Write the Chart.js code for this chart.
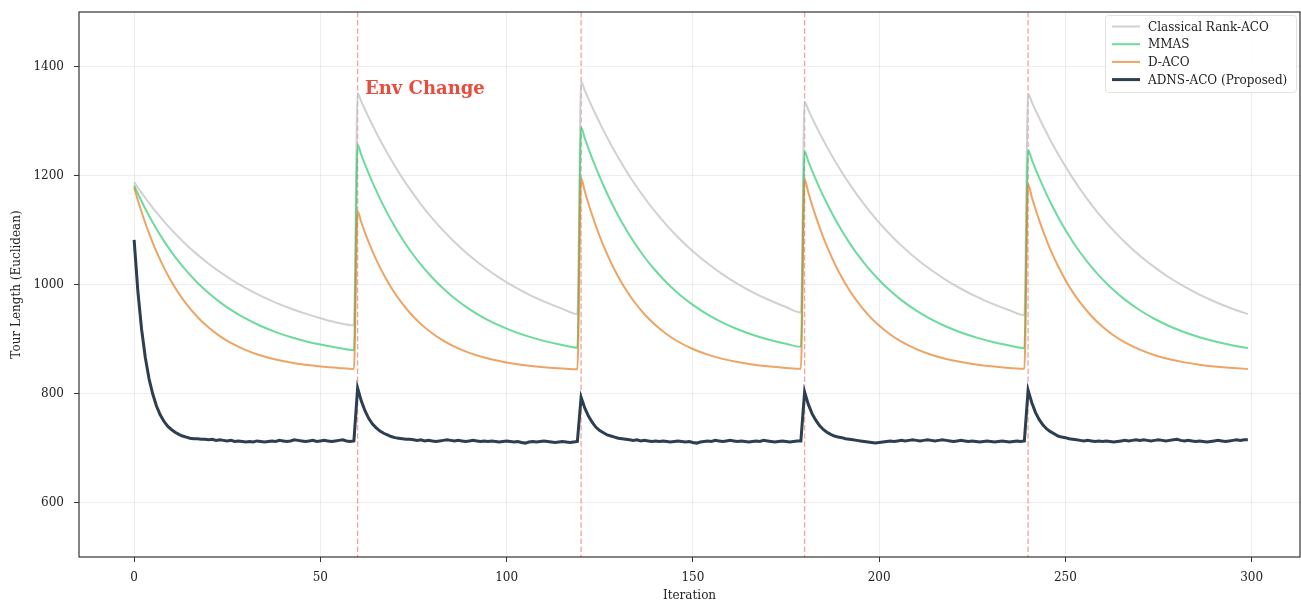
<!DOCTYPE html>
<html><head><meta charset="utf-8">
<script src="https://cdn.jsdelivr.net/npm/chart.js@4.4.0/dist/chart.umd.min.js"></script>
<style>html,body{margin:0;padding:0;background:#fff;}#wrap{width:1301px;height:603px;}</style>
</head><body><div id="wrap"><canvas id="c" width="1301" height="603"></canvas></div>
<script>
// ---- data ----
const seriesLabels = ['Classical Rank-ACO', 'MMAS', 'D-ACO', 'ADNS-ACO (Proposed)'];
const segmentStarts = [0, 60, 120, 180, 240];
const sampleOffsets = [0,1,2,3,4,5,6,8,10,12,14,17,20,23,26,30,34,38,42,46,50,55,59];
const envChanges = [60, 120, 180, 240];
const envLabel = 'Env Change';
const xTicks = [0, 50, 100, 150, 200, 250, 300];
const yTicks = [600, 800, 1000, 1200, 1400];

const rankValues = [
 1188,1177.9,1168.1,1158.7,1149.6,1140.7,1132.2,1115.9,1100.7,1086.5,1073.1,1054.8,1038.1,1023.1,1009.5,993.3,979.2,966.8,956.0,946.5,938.2,929.2,925.1,
 1351,1335.6,1320.6,1306.2,1292.2,1278.7,1265.6,1240.7,1217.5,1195.7,1175.4,1147.2,1121.8,1098.8,1078.0,1053.3,1031.7,1012.7,996.1,981.6,969.0,955.3,945.9,
 1372,1355.9,1340.3,1325.2,1310.6,1296.5,1282.8,1256.8,1232.5,1209.8,1188.5,1159.2,1132.6,1108.6,1086.8,1061.0,1038.4,1018.6,1001.3,986.2,972.9,958.7,948.8,
 1335,1320.1,1305.7,1291.7,1278.2,1265.2,1252.5,1228.5,1206.0,1185.0,1165.3,1138.2,1113.6,1091.4,1071.3,1047.4,1026.5,1008.2,992.2,978.2,965.9,952.8,943.7,
 1350,1334.7,1319.7,1305.3,1291.4,1277.9,1264.8,1240.0,1216.8,1195.1,1174.8,1146.7,1121.3,1098.4,1077.6,1052.9,1031.4,1012.4,995.9,981.4,968.8,955.1,945.8
];
const mmasValues = [
 1182,1167.0,1152.8,1139.1,1126.2,1113.8,1102.0,1080.0,1060.0,1041.8,1025.3,1003.3,984.3,967.7,953.4,937.2,923.8,912.7,903.6,896.0,889.8,883.5,879.4,
 1256,1237.6,1220.0,1203.3,1187.3,1172.1,1157.6,1130.5,1106.0,1083.6,1063.3,1036.3,1012.8,992.5,974.8,954.9,938.4,924.9,913.6,904.3,896.6,888.9,883.8,
 1288,1268.1,1249.1,1231.0,1213.8,1197.3,1181.6,1152.4,1125.8,1101.7,1079.7,1050.5,1025.2,1003.2,984.1,962.6,944.8,930.1,917.9,907.9,899.6,891.2,885.8,
 1244,1226.1,1209.1,1192.9,1177.4,1162.6,1148.6,1122.3,1098.5,1076.8,1057.1,1030.9,1008.2,988.4,971.4,952.0,936.1,922.9,912.0,903.0,895.5,888.0,883.1,
 1247,1229.0,1211.9,1195.5,1179.9,1165.0,1150.8,1124.4,1100.4,1078.5,1058.7,1032.3,1009.3,989.5,972.2,952.8,936.7,923.4,912.4,903.3,895.8,888.2,883.3
];
const dacoValues = [
 1178,1154.7,1133.0,1112.8,1094.0,1076.5,1060.2,1030.9,1005.5,983.4,964.4,940.4,921.0,905.4,892.8,879.6,869.8,862.4,856.8,852.6,849.5,846.7,845.0,
 1134,1113.7,1094.9,1077.3,1060.9,1045.7,1031.5,1006.0,983.9,964.8,948.2,927.3,910.5,896.9,885.9,874.5,865.9,859.5,854.6,851.0,848.3,845.8,844.4,
 1195,1170.5,1147.7,1126.5,1106.8,1088.4,1071.2,1040.5,1013.8,990.7,970.6,945.4,925.1,908.7,895.4,881.6,871.3,863.5,857.7,853.3,850.0,847.0,845.3,
 1193,1168.7,1146.0,1124.9,1105.3,1087.0,1069.9,1039.3,1012.8,989.8,969.9,944.8,924.6,908.3,895.1,881.4,871.1,863.4,857.6,853.2,849.9,847.0,845.2,
 1184,1160.3,1138.2,1117.6,1098.5,1080.7,1064.1,1034.3,1008.4,986.0,966.6,942.1,922.5,906.5,893.7,880.4,870.3,862.8,857.1,852.9,849.7,846.8,845.1
];
const adnsValues = [
 1082,988,918,866,827,799,777,761,749,740,734,729,725,722,720,718,717,717,
 716,716,715,716,714,715,714,713,714,712,
 713,712,711,712,711,713,712,711,712,713,
 712,714,713,712,713,715,714,713,712,713,
 714,712,713,714,713,712,713,714,715,713,712,713,
 810,786,768,754,744,737,731,727,724,721,719,718,717,716,
 716,715,714,715,713,714,713,712,713,714,
 715,714,713,714,713,712,713,714,713,712,
 713,712,713,712,711,712,713,712,711,712,
 710,709,711,712,711,712,713,712,711,710,
 711,712,711,710,711,712,
 793,773,758,747,738,732,728,724,722,720,718,717,716,
 715,714,715,713,714,713,712,713,712,713,
 712,711,712,713,712,711,712,710,709,711,
 712,713,712,714,713,712,713,714,713,712,
 713,712,711,712,713,712,714,713,712,711,
 712,713,712,711,712,713,713,
 803,780,763,751,741,734,729,725,722,720,719,717,716,
 715,714,713,712,711,710,709,710,711,712,
 713,712,713,714,713,714,715,714,713,714,
 715,714,713,714,715,714,713,712,713,714,
 713,712,713,712,711,712,713,712,711,712,
 713,712,711,712,713,712,713,
 806,783,765,752,742,735,730,726,722,720,719,717,716,
 715,714,713,714,713,712,713,712,713,712,
 711,712,713,714,713,714,715,714,715,714,
 713,714,715,714,713,714,715,716,714,713,
 714,713,712,713,712,711,712,713,714,713,
 712,713,714,715,714,715,715
];

// ---- build ----
const smoothIters = segmentStarts.flatMap(s => sampleOffsets.map(o => s + o));
const iterations = adnsValues.map((_, i) => i);
const toPts = (xs, ys) => ys.map((v, i) => ({x: xs[i], y: v}));

const colors = ['rgba(189,195,199,0.75)', 'rgba(46,204,113,0.7)', 'rgba(230,126,34,0.7)', '#2c3e50'];
const widths = [2, 2, 2, 3];

Chart.defaults.font.family = '"DejaVu Serif", serif';
Chart.defaults.font.size = 12;
Chart.defaults.color = '#222';

const decor = {
  id: 'decor',
  beforeDatasetsDraw(chart) {
    const {ctx, chartArea: a, scales: {x}} = chart;
    ctx.save();
    ctx.beginPath(); ctx.rect(a.left, a.top, a.right - a.left, a.bottom - a.top); ctx.clip();
    ctx.strokeStyle = 'rgba(231,76,60,0.5)';
    ctx.lineWidth = 1.3;
    ctx.setLineDash([5.5, 2.6]);
    envChanges.forEach(v => {
      const px = x.getPixelForValue(v);
      ctx.beginPath(); ctx.moveTo(px, a.top); ctx.lineTo(px, a.bottom); ctx.stroke();
    });
    ctx.restore();
  },
  afterDatasetsDraw(chart) {
    const {ctx, chartArea: a, scales: {x, y}} = chart;
    ctx.save();
    // annotation
    ctx.font = 'bold 18px "DejaVu Serif"';
    ctx.fillStyle = '#e74c3c';
    ctx.textBaseline = 'alphabetic';
    ctx.textAlign = 'left';
    ctx.fillText(envLabel, x.getPixelForValue(62), y.getPixelForValue(1350));
    // frame
    ctx.strokeStyle = '#333';
    ctx.lineWidth = 1.2;
    ctx.strokeRect(a.left, a.top, a.right - a.left, a.bottom - a.top);
    // legend
    const lx = 1105, ly = 15, lw = 191, lh = 77;
    ctx.fillStyle = 'rgba(255,255,255,0.85)';
    ctx.strokeStyle = '#e2e2e2';
    ctx.lineWidth = 1;
    ctx.beginPath(); ctx.roundRect(lx + 0.5, ly + 0.5, lw, lh, 3); ctx.fill(); ctx.stroke();
    ctx.font = '12px "DejaVu Serif"';
    ctx.textBaseline = 'middle';
    seriesLabels.forEach((lab, i) => {
      const ry = 26.5 + i * 17.7;
      ctx.strokeStyle = colors[i];
      ctx.lineWidth = widths[i];
      ctx.beginPath(); ctx.moveTo(1112, ry); ctx.lineTo(1140, ry); ctx.stroke();
      ctx.fillStyle = '#222';
      ctx.fillText(lab, 1148, ry + 1);
    });
    ctx.restore();
  }
};

const seriesData = [
  toPts(smoothIters, rankValues),
  toPts(smoothIters, mmasValues),
  toPts(smoothIters, dacoValues),
  toPts(iterations, adnsValues)
];

new Chart(document.getElementById('c'), {
  type: 'line',
  data: {
    datasets: seriesLabels.map((lab, i) => ({
      label: lab,
      data: seriesData[i],
      borderColor: colors[i],
      backgroundColor: colors[i],
      borderWidth: widths[i],
      pointRadius: 0,
      fill: false,
      cubicInterpolationMode: i < 3 ? 'monotone' : 'default',
      tension: 0,
      order: 3 - i
    }))
  },
  options: {
    responsive: false,
    animation: false,
    devicePixelRatio: 1,
    layout: {padding: {left: 0, top: 12, right: 1, bottom: 0}},
    plugins: {legend: {display: false}, tooltip: {enabled: false}},
    scales: {
      x: {
        type: 'linear', min: -14.8, max: 313,
        afterBuildTicks: s => { s.ticks = xTicks.map(v => ({value: v})); },
        afterFit: s => { s.height = 46; s.paddingLeft = 0; s.paddingRight = 0; },
        ticks: {callback: v => String(v), padding: 9, maxRotation: 0, autoSkip: false, color: '#222'},
        grid: {color: 'rgba(0,0,0,0.07)', tickColor: '#333', tickLength: 5, lineWidth: 1},
        border: {display: false},
        title: {display: true, text: 'Iteration', padding: {top: 0, bottom: 0}, color: '#222'}
      },
      y: {
        type: 'linear', min: 500, max: 1500,
        afterBuildTicks: s => { s.ticks = yTicks.map(v => ({value: v})); },
        afterFit: s => { s.width = 79; s.paddingTop = 0; s.paddingBottom = 0; },
        ticks: {callback: v => String(v), padding: 10, autoSkip: false, color: '#222'},
        grid: {color: 'rgba(0,0,0,0.07)', tickColor: '#333', tickLength: 5, lineWidth: 1},
        border: {display: false},
        title: {display: true, text: 'Tour Length (Euclidean)', padding: {top: 10, bottom: 0}, color: '#222'}
      }
    }
  },
  plugins: [decor]
});
</script>
</body></html>
